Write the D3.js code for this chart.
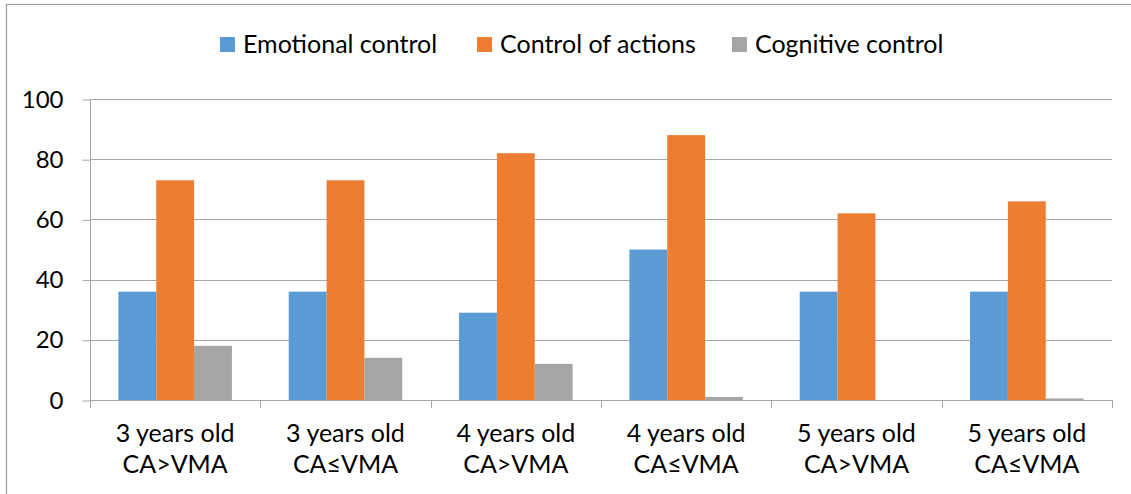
<!DOCTYPE html>
<html>
<head>
<meta charset="utf-8">
<script src="https://cdn.jsdelivr.net/npm/d3@7"></script>
<style>
  body { margin: 0; background: #fff; }
  svg { display: block; font-family: Lato, "Open Sans", sans-serif; }
</style>
</head>
<body>
<div id="chart"></div>
<script>
const categories = [
    ["3 years old", "CA>VMA"],
    ["3 years old", "CA\u2264VMA"],
    ["4 years old", "CA>VMA"],
    ["4 years old", "CA\u2264VMA"],
    ["5 years old", "CA>VMA"],
    ["5 years old", "CA\u2264VMA"]
];
const seriesNames = ["Emotional control", "Control of actions", "Cognitive control"];
const emotional = [36, 36, 29, 50, 36, 36];
const actions = [73, 73, 82, 88, 62, 66];
const cognitive = [18, 14, 12, 1, 0, 0.5];
const yTicks = [0, 20, 40, 60, 80, 100];

const colors = ["#5B9BD5", "#ED7D31", "#A5A5A5"];
const series = [emotional, actions, cognitive];

const width = 1131, height = 494;
const margin = { top: 99, right: 19, bottom: 94, left: 90 };
const fontSize = 25;

const svg = d3.select("#chart").append("svg")
    .attr("width", width)
    .attr("height", height);

// outer chart border (only left and top are in view)
svg.append("rect")
    .attr("x", 6.5).attr("y", 4.5)
    .attr("width", width + 10).attr("height", height + 10)
    .attr("fill", "none")
    .attr("stroke", "#a0a0a0")
    .attr("stroke-width", 1.2);

const x0 = d3.scaleBand()
    .domain(d3.range(categories.length))
    .range([margin.left, width - margin.right]);

// Excel-style gap width 150%
const x1 = d3.scaleBand()
    .domain(d3.range(series.length))
    .range([0, x0.bandwidth()])
    .paddingInner(0)
    .paddingOuter(0.75);

const y = d3.scaleLinear()
    .domain([0, 100])
    .range([height - margin.bottom, margin.top]);

// gridlines
svg.append("g").classed("grid", true)
    .selectAll("line")
    .data(yTicks.filter(d => d > 0))
    .enter().append("line")
        .attr("x1", margin.left).attr("x2", width - margin.right)
        .attr("y1", d => Math.round(y(d)) + 0.5)
        .attr("y2", d => Math.round(y(d)) + 0.5)
        .attr("stroke", "#a6a6a6")
        .attr("stroke-width", 1);

// y axis
const yAxis = svg.append("g")
    .attr("transform", `translate(${margin.left + 0.5},0.5)`)
    .call(d3.axisLeft(y).tickValues(yTicks).tickSize(8).tickPadding(19));
yAxis.selectAll("line, path").attr("stroke", "#a6a6a6");
yAxis.select(".domain").attr("d", `M0,${y(100)}V${y(0)}`);
yAxis.selectAll("text")
    .attr("font-size", fontSize - 1)
    .attr("fill", "#000")
    .attr("font-family", "Lato, sans-serif");

// bars
const groups = svg.append("g").classed("bars", true)
    .selectAll("g")
    .data(categories)
    .enter().append("g")
        .attr("transform", (d, i) => `translate(${x0(i)},0)`);

groups.selectAll("rect")
    .data((d, i) => series.map((s, j) => ({ j: j, v: s[i] })))
    .enter().append("rect")
        .attr("x", d => x1(d.j))
        .attr("width", x1.bandwidth())
        .attr("y", d => y(d.v))
        .attr("height", d => y(0) - y(d.v))
        .attr("fill", d => colors[d.j]);

// x axis
const xAxisG = svg.append("g").classed("x-axis", true);
xAxisG.append("line")
    .attr("x1", margin.left).attr("x2", width - margin.right)
    .attr("y1", Math.round(y(0)) + 0.5).attr("y2", Math.round(y(0)) + 0.5)
    .attr("stroke", "#a6a6a6");
xAxisG.selectAll("line.tick")
    .data(d3.range(categories.length + 1))
    .enter().append("line")
        .classed("tick", true)
        .attr("x1", i => Math.round(margin.left + i * x0.step()) + 0.5)
        .attr("x2", i => Math.round(margin.left + i * x0.step()) + 0.5)
        .attr("y1", Math.round(y(0)))
        .attr("y2", Math.round(y(0)) + 8)
        .attr("stroke", "#a6a6a6");

const labels = xAxisG.selectAll("text")
    .data(categories)
    .enter().append("text")
        .attr("text-anchor", "middle")
        .attr("font-size", fontSize)
        .attr("fill", "#000");
labels.append("tspan")
    .attr("x", (d, i) => x0(i) + x0.bandwidth() / 2)
    .attr("y", 442)
    .text(d => d[0]);
labels.append("tspan")
    .attr("x", (d, i) => x0(i) + x0.bandwidth() / 2)
    .attr("y", 473)
    .text(d => d[1]);

// legend
const legendX = [220, 477, 732];
const legend = svg.append("g").classed("legend", true)
    .selectAll("g")
    .data(seriesNames)
    .enter().append("g")
        .attr("transform", (d, i) => `translate(${legendX[i]},37)`);
legend.append("rect")
    .attr("width", 15).attr("height", 15)
    .attr("fill", (d, i) => colors[i]);
legend.append("text")
    .attr("x", 23).attr("y", 16)
    .attr("font-size", fontSize)
    .attr("fill", "#000")
    .text(d => d);
</script>
</body>
</html>
